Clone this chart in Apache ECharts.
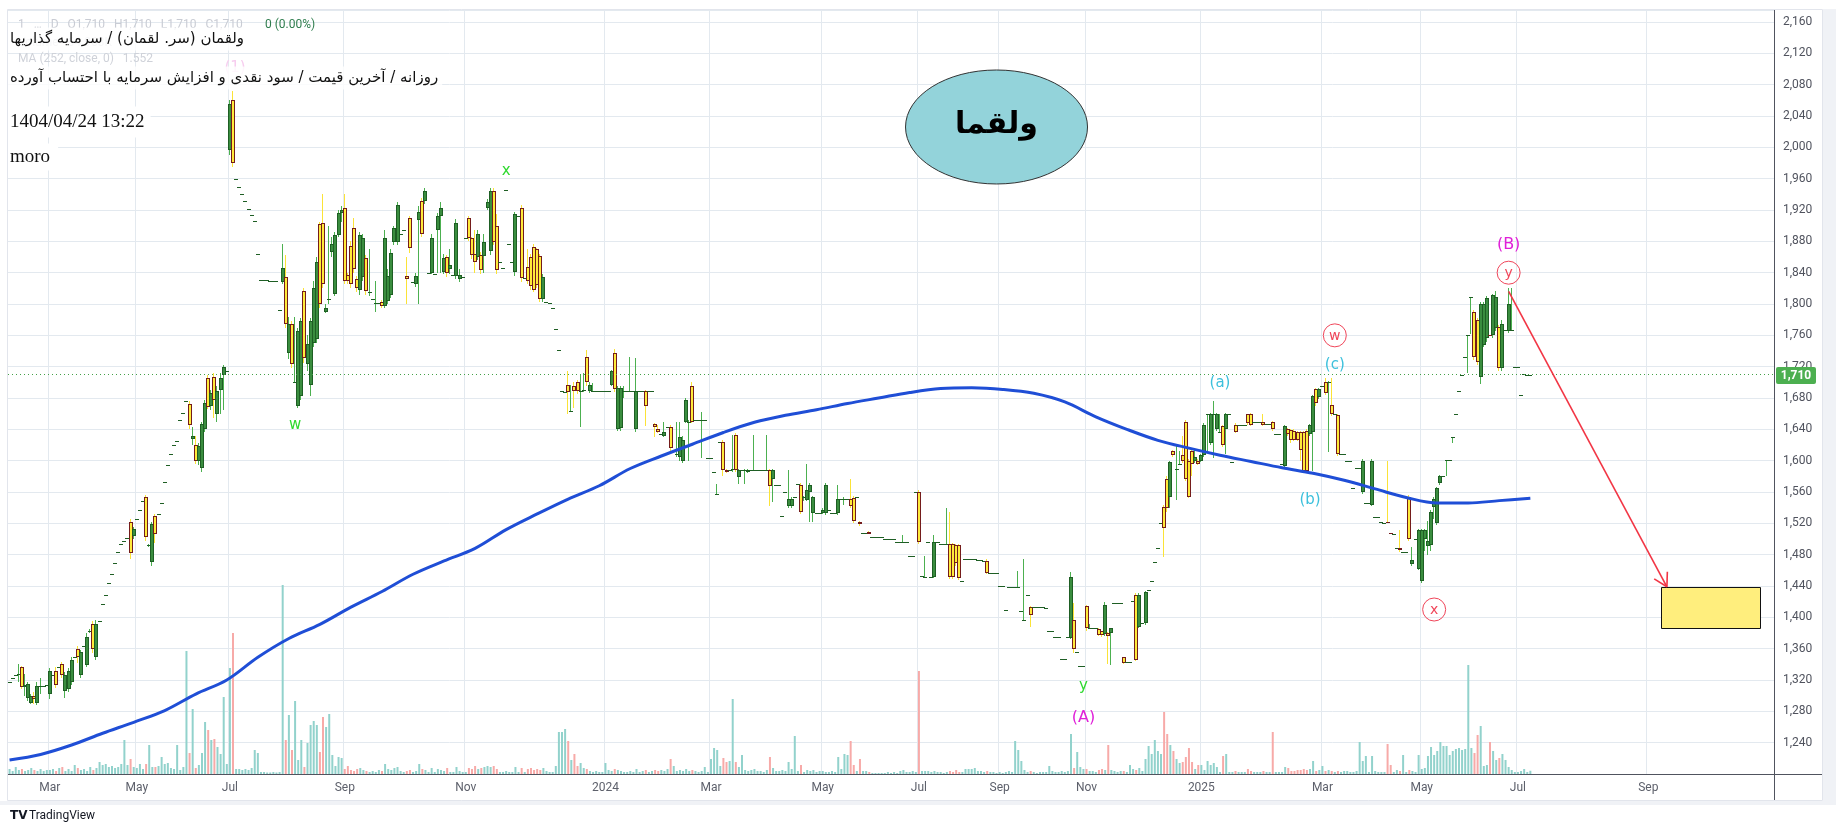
<!DOCTYPE html>
<html><head><meta charset="utf-8">
<script src="https://cdn.jsdelivr.net/npm/echarts/dist/echarts.min.js"></script>
<style>html,body{margin:0;padding:0;background:#fff;}#c{width:1836px;height:835px;}</style>
</head><body><div id="c"></div>
<script>
// ---------- DATA (a single number = a bar with open=close=low=high) ----------
// [open, close, low, high], one entry per trading bar
const ohlc2023 = [
// Feb
1318,1322,1327,[1326,1328,1318,1340],[1336,1311,1308,1338],[1311,1313,1300,1328],[1297,1315,1293,1318],[1291,1300,1289,1302],[1300,1296,1290,1305],[1291,1312,1288,1318],[1312,1312,1302,1322],1312,1313,
// Mar
[1302,1331,1296,1335],1326,[1332,1314,1310,1336],1336,[1341,1326,1322,1343],[1306,1326,1297,1330],[1308,1331,1305,1335],[1317,1346,1314,1350],1350,[1359,1349,1342,1364],[1326,1356,1322,1358],1363,[1339,1375,1336,1380],[1382,1382,1380,1385],
// Apr
[1391,1359,1355,1395],[1350,1392,1345,1396],1395,1417,1428,1444,1455,1469,1484,1493,1497,1501,[1522,1482,1475,1525],[1504,1513,1500,1515],
// May
1525,1537,1549,[1554,1503,1498,1556],[1492,1492,1490,1494],[1471,1519,1466,1522],[1529,1506,1495,1532],1532,1546,1573,1594,1608,1620,1625,1652,
// Jun
1661,1676,[1672,1645,1640,1676],[1628,1632,1620,1643],[1620,1599,1596,1632],[1599,1619,1595,1622],[1591,1647,1585,1650],[1640,1674,1636,1678],[1706,1669,1666,1710],[1670,1686,1665,1690],[1707,1677,1654,1712],[1659,1689,1650,1695],[1690,1705,1660,1712],[1710,1720,1665,1722],1715,
// Jul
[1996,2055,1990,2060],[2060,1980,1975,2072],1959,1949,1941,1931,1921,1914,1906,1864,1831,1831,1831,1830,1830,1830,1792,[1828,1846,1826,1876],[1835,1775,1770,1862],
// Aug
[1737,1775,1730,1784],[1775,1723,1718,1778],[1701,1701,1700,1784],[1670,1765,1667,1770],[1682,1778,1678,1782],[1816,1731,1725,1820],[1723,1749,1715,1760],[1697,1778,1682,1782],[1750,1821,1745,1830],[1755,1854,1750,1860],[1902,1800,1795,1905],[1904,1825,1820,1940],[1790,1795,1788,1800],[1806,1806,1800,1900],[1866,1877,1860,1885],[1813,1888,1810,1892],[1888,1916,1885,1920],[1916,1920,1905,1925],
// Sep
[1923,1830,1825,1941],[1837,1829,1826,1840],[1874,1825,1820,1880],[1897,1845,1840,1910],[1832,1820,1815,1836],[1818,1888,1812,1892],[1835,1884,1830,1890],[1859,1817,1812,1862],[1815,1815,1810,1870],1807,[1801,1801,1790,1830],1801,[1802,1797,1795,1805],[1797,1884,1795,1895],[1804,1836,1800,1845],[1812,1865,1808,1870],[1879,1897,1875,1900],[1879,1926,1875,1930],1890,1895,
// Oct
[1836,1832,1800,1860],[1910,1871,1865,1912],1828,[1826,1836,1822,1840],[1907,1918,1800,1925],[1932,1889,1885,1935],[1932,1944,1928,1948],1840,[1840,1884,1838,1890],1838,[1895,1913,1840,1916],[1913,1923,1840,1930],[1841,1859,1838,1864],[1860,1840,1835,1862],[1845,1850,1838,1870],1837,[1836,1903,1832,1908],[1832,1837,1828,1845],1835,
// Nov
1884,[1910,1884,1880,1912],[1884,1862,1858,1886],[1864,1854,1840,1895],[1860,1890,1856,1895],[1862,1843,1838,1866],[1861,1879,1840,1890],[1923,1930,1920,1934],[1868,1944,1862,1948],[1944,1879,1875,1948],[1899,1843,1838,1915],1854,1846,1946,1877,1854,[1841,1915,1836,1918],1913,[1923,1833,1828,1926],1833,[1847,1830,1826,1870],[1860,1823,1818,1864],[1873,1818,1815,1876],
// Dec
[1870,1824,1820,1872],[1861,1807,1803,1864],[1806,1835,1802,1838],1803,1801,1795,1768,1741,1689,1688,[1696,1688,1660,1715],[1664,1664,1664,1696],[1695,1689,1667,1701],[1701,1689,1685,1703],[1689,1689,1643,1711],[1689,1690,1688,1712],[1732,1700,1695,1741],[1689,1697,1686,1700],[1689,1689,1689,1699],1689,1689,1689
];
const ohlc2024 = [
// Jan
1689,1689,[1697,1714,1695,1716],[1738,1691,1688,1742],[1641,1693,1638,1695],[1642,1693,1638,1695],[1689,1689,1680,1695],1689,[1689,1689,1689,1732],1689,[1640,1689,1637,1731],1689,1689,[1689,1670,1644,1690],1689,1689,[1647,1643,1630,1648],
// Feb
[1641,1637,1635,1645],1634,[1632,1636,1630,1650],1643,[1643,1616,1612,1645],1612,[1608,1608,1605,1650],[1605,1630,1600,1650],[1600,1626,1597,1632],[1650,1677,1648,1680],[1650,1650,1600,1652],[1695,1650,1648,1700],1652,1652,[1652,1652,1603,1662],1652,1604,
// Mar
1604,1585,[1558,1558,1558,1570],1624,[1624,1588,1580,1626],[1588,1585,1584,1590],1588,[1588,1590,1586,1633],[1633,1588,1586,1635],[1579,1588,1570,1590],1588,[1588,1588,1570,1590],[1585,1588,1584,1590],1588,[1588,1588,1588,1633],1588,1588,1588,
// Apr
[1588,1588,1588,1633],[1588,1568,1542,1590],[1576,1588,1547,1590],1569,1569,1529,1560,[1542,1551,1540,1588],[1542,1551,1540,1553],1553,1570,[1569,1535,1532,1571],[1553,1553,1548,1555],[1550,1562,1548,1596],[1560,1569,1522,1571],[1533,1553,1522,1555],1533,1533,
// May
[1533,1537,1532,1539],[1533,1569,1531,1571],1537,1533,1533,[1533,1551,1531,1569],1551,[1551,1551,1544,1553],1551,[1551,1542,1540,1576],[1552,1523,1520,1555],1553,[1522,1519,1517,1523],1508,1508,
// Jun
[1509,1507,1506,1510],1503,1503,1503,1503,1500,1500,1500,1500,1496,1496,[1496,1496,1496,1505],1496,1478,1478,1560,
// Jul
[1560,1496,1494,1562],1453,[1452,1452,1452,1478],1496,1452,[1452,1496,1450,1505],1496,1494,1494,[1494,1494,1494,1540],[1494,1451,1449,1535],[1493,1451,1449,1495],[1492,1469,1465,1494],
// Aug
[1492,1450,1448,1494],1447,1475,1475,1475,1475,1473,1473,1472,[1472,1457,1455,1474],1456,1456,1456,
// Sep
1440,1440,1409,1439,1439,1439,[1439,1439,1439,1459],1408,[1396,1396,1396,1475],1429,[1413,1403,1388,1414],1413,1413,1413,
// Oct
1413,1412,1383,1382,1375,1375,1347,1347,1375,[1374,1451,1372,1458],[1396,1360,1355,1418],1356,1338,1338,
// Nov
[1415,1386,1383,1416],[1386,1386,1386,1392],1386,1386,[1385,1378,1376,1386],[1382,1377,1375,1383],[1379,1416,1376,1419],[1380,1376,1340,1381],[1380,1386,1339,1387],1418,1418,1418,[1349,1342,1340,1350],1343,1343,1421,[1429,1346,1344,1431],[1388,1429,1386,1431],1393,
// Dec
[1393,1432,1390,1434],1435,1447,1471,1489,1520,[1541,1514,1477,1543],[1577,1539,1535,1580],[1554,1598,1540,1600],[1612,1607,1605,1614],[1590,1590,1550,1620],[1596,1596,1596,1612],[1607,1599,1597,1632],[1650,1576,1574,1652],[1600,1554,1552,1602],[1612,1596,1580,1614],[1599,1605,1597,1615],[1600,1596,1594,1602]
];
const ohlc2025 = [
// Jan
[1600,1607,1598,1609],[1607,1645,1605,1648],[1659,1659,1610,1660],[1623,1659,1620,1661],[1659,1659,1603,1676],[1640,1659,1638,1661],[1637,1637,1637,1659],[1644,1620,1618,1646],[1640,1659,1609,1661],1659,1598,[1646,1637,1635,1648],1646,1646,1646,[1659,1648,1646,1660],[1659,1646,1644,1661],1649,1649,1649,
// Feb
[1649,1646,1644,1659],1647,1647,[1649,1640,1638,1651],1634,1634,1596,[1593,1644,1590,1646],[1640,1634,1632,1642],[1639,1627,1622,1641],[1638,1627,1625,1640],[1636,1627,1625,1638],[1636,1613,1600,1638],[1636,1587,1585,1638],[1638,1587,1585,1640],[1634,1645,1632,1647],[1636,1682,1587,1684],[1691,1673,1670,1693],[1681,1691,1679,1693],
// Mar
1695,[1700,1686,1684,1705],[1700,1700,1611,1702],[1671,1659,1657,1706],1659,[1658,1608,1606,1660],1608,1608,1600,1600,1565,1591,1591,[1560,1600,1558,1602],1546,1546,
// Apr
[1544,1600,1542,1602],1528,1528,1522,1521,[1522,1521,1521,1600],[1508,1507,1507,1508],1507,1488,[1488,1486,1484,1511],1484,1484,[1554,1500,1498,1556],[1468,1473,1466,1490],1500,[1462,1511,1460,1513],
// May
[1446,1511,1444,1513],[1500,1511,1485,1513],[1491,1498,1480,1523],[1492,1535,1485,1537],[1541,1551,1525,1553],[1520,1565,1518,1567],[1571,1580,1569,1582],1580,[1601,1601,1581,1601],1601,[1630,1630,1622,1630],1659,1689,1709,1733,[1761,1761,1712,1761],
// Jun
[1809,1809,1762,1809],[1790,1732,1728,1792],[1780,1726,1722,1782],[1707,1800,1698,1802],[1748,1800,1745,1802],[1756,1808,1752,1810],[1761,1760,1760,1761],[1760,1811,1757,1813],[1769,1809,1765,1817],[1771,1718,1715,1773],[1718,1774,1715,1780],1767,[1766,1800,1763,1820],[1767,1767,1767,1820],1719,
// Jul
1719,1684,1711,1709,1710
];
// volume (thousand shares), one per bar
const volume2023 = [
100,60,140,80,100,60,80,120,80,60,100,60,80,
80,100,60,120,140,60,100,60,180,120,80,100,60,140,
80,120,240,180,200,140,160,120,140,200,680,180,300,140,
120,200,100,200,580,140,140,160,340,200,220,120,100,580,80,
140,2460,420,1300,120,180,420,1040,880,680,700,540,400,1540,200,
2120,2820,100,100,80,100,80,120,480,420,40,40,30,30,40,30,40,3780,680,
1180,480,1460,280,680,140,620,980,1060,980,440,1140,940,1200,380,160,340,320,
100,160,80,60,100,120,80,60,40,60,40,80,60,200,100,80,120,140,60,40,
60,80,40,60,200,100,80,40,120,40,100,80,60,120,40,40,140,60,40,
40,120,100,160,100,120,140,160,140,160,100,40,40,60,40,40,140,40,120,40,100,120,80,
100,80,120,60,40,40,160,840,840,900,660,280,400,160,220,120,100,60,40,60,40,40
];
const volume2024 = [
220,80,60,100,80,60,40,40,60,40,100,40,60,80,40,60,80,
60,80,60,100,300,160,60,80,60,100,60,80,60,40,60,140,40,
300,520,480,160,320,240,260,1500,240,140,380,80,60,80,100,60,60,40,
80,340,120,60,60,80,60,240,100,760,60,180,40,80,60,80,40,60,
60,40,40,60,40,340,100,400,380,660,180,60,300,60,60,
40,20,20,20,20,20,40,20,40,20,60,80,40,40,60,40,
2060,60,60,60,40,60,40,40,20,40,60,40,80,
40,40,100,100,100,120,60,60,40,60,40,40,20,
40,20,40,60,40,660,480,260,80,40,60,40,20,40,
40,40,160,60,40,40,60,40,60,800,120,440,140,100,
100,60,60,40,80,100,80,580,80,60,40,60,60,40,180,100,80,120,60,
300,560,400,680,460,400,1240,800,580,460,300,220,240,340,520,240,100,180
];
const volume2025 = [
180,80,260,180,220,140,40,360,400,40,40,60,40,40,40,100,60,40,40,40,
60,40,40,840,40,40,40,140,120,60,60,80,80,100,80,100,260,60,80,
160,60,80,60,40,60,40,60,60,40,40,60,640,260,360,40,
360,60,40,40,40,600,180,40,80,60,380,40,80,60,40,380,
100,120,360,540,380,460,640,560,560,380,460,500,520,480,500,2180,
520,420,780,960,160,180,640,460,280,320,400,280,140,80,40,
40,60,100,40,65
];
// MA(252, close) read every 10 bars
const ma252Every10 = [1218,1225,1237,1252,1266,1281,1302,1320,1349,1373,1391,1413,1433,1455,1472,1488,1512,1532,1551,1568,1590,1606,1621,1636,1649,1658,1665,1673,1680,1687,1692,1693,1691,1686,1675,1656,1640,1626,1616,1607,1599,1591,1584,1575,1564,1553,1546,1546,1549,1552];
// time scale: month tick labels and bar counts per month (Feb 2023 .. Oct 2025)
const monthTickLabels = ['','Mar','','May','','Jul','','Sep','','Nov','','2024','','Mar','','May','','Jul','','Sep','','Nov','','2025','','Mar','','May','','Jul','','Sep',''];
const barsPerMonth = [13,14,14,15,15,19,18,20,19,23,22, 17,17,18,18,15,16,13,13,14,14,19,18, 20,19,16,16,16,15,21,21,21,20];
const lastPrice = 1710;

// ---------- BUILD ----------
const ohlc = ohlc2023.concat(ohlc2024, ohlc2025).map(d => Array.isArray(d) ? d : [d, d, d, d]);
const volume = volume2023.concat(volume2024, volume2025);
const categories = [], labelIdx = new Set();
let k = 0;
barsPerMonth.forEach((n, m) => {
  for (let j = 0; j < n; j++) {
    if (j === 0 && monthTickLabels[m]) { categories.push(monthTickLabels[m] + '#' + k); labelIdx.add(k); }
    else categories.push('#' + k);
    k++;
  }
});
const candleData = ohlc.map((d, i) => [i, d[0], d[1], d[2], d[3]]);
const volData = volume.slice(0, ohlc.length).map((v, i) => ({
  value: v, itemStyle: { color: ohlc[i][1] >= ohlc[i][0] ? '#92d2cc' : '#f7aaa8' }
}));
const maData = new Array(ohlc.length).fill(null);
ma252Every10.forEach((v, j) => { if (j * 10 < maData.length) maData[j * 10] = v; });

const upFill = '#3a8d3f', upBorder = '#1e5e24', upWick = '#4cb050';
const dnFill = '#ffeb3b', dnBorder = '#741c1c', dnWick = '#fbe337';

function renderCandle(params, api) {
  const i = api.value(0), o = api.value(1), c = api.value(2), l = api.value(3), h = api.value(4);
  const pO = api.coord([i, o]), pC = api.coord([i, c]), pL = api.coord([i, l]), pH = api.coord([i, h]);
  const xc = Math.round(pO[0]) - 1;
  const up = c >= o;
  const kids = [];
  const yh = Math.round(pH[1]), yl = Math.round(pL[1]);
  if (yl - yh >= 1) kids.push({ type: 'rect', shape: { x: xc, y: yh, width: 1, height: yl - yh }, style: { fill: up ? upWick : dnWick } });
  let top = Math.round(Math.min(pO[1], pC[1])), bot = Math.round(Math.max(pO[1], pC[1]));
  if (bot - top < 1) bot = top + 1;
  kids.push({ type: 'rect', shape: { x: xc - 1, y: top, width: 4, height: bot - top }, style: { fill: up ? upBorder : dnBorder } });
  if (bot - top > 2) kids.push({ type: 'rect', shape: { x: xc, y: top + 1, width: 2, height: bot - top - 2 }, style: { fill: up ? upFill : dnFill } });
  return { type: 'group', children: kids };
}

const GRID = { left: 8, right: 62, top: 10, bottom: 61 };
const gridH = 835 - GRID.top - GRID.bottom;
const pxPerUnit = 0.7833;
const yMin = 1200, yMax = yMin + gridH / pxPerUnit;
const volMax = 20 * gridH; // 1 px = 20K

const chart = echarts.init(document.getElementById('c'), null, { renderer: 'canvas' });
chart.setOption({
  animation: false,
  backgroundColor: '#ffffff',
  grid: Object.assign({ containLabel: false, outerBoundsMode: 'none' }, GRID),
  xAxis: {
    type: 'category', data: categories, boundaryGap: true,
    axisLine: { lineStyle: { color: '#50535e', width: 1 } },
    axisTick: { show: false },
    axisLabel: {
      interval: (i) => labelIdx.has(i), margin: 8,
      formatter: (v) => v.split('#')[0],
      color: '#5d606b', fontFamily: 'Roboto', fontSize: 12
    },
    splitLine: { show: true, interval: (i) => labelIdx.has(i), lineStyle: { color: '#e3e9ef', width: 1 } }
  },
  yAxis: [{
    type: 'value', position: 'right', min: yMin, max: yMax, interval: 40, scale: true,
    axisLine: { show: true, lineStyle: { color: '#50535e' } },
    axisTick: { show: false },
    axisLabel: {
      margin: 9, showMaxLabel: false, showMinLabel: false,
      formatter: (v) => v.toLocaleString('en-US'),
      color: '#50535e', fontFamily: 'Roboto', fontSize: 12
    },
    splitLine: { show: true, lineStyle: { color: '#e3e9ef', width: 1 } }
  }, {
    type: 'value', min: 0, max: volMax, show: false, splitLine: { show: false }
  }],
  series: [{
    type: 'bar', name: 'Volume', xAxisIndex: 0, yAxisIndex: 1, data: volData,
    barWidth: 2, silent: true, z: 1, large: false
  }, {
    type: 'custom', name: 'price', xAxisIndex: 0, yAxisIndex: 0, data: candleData,
    renderItem: renderCandle, encode: { x: 0, y: [1, 2, 3, 4] }, clip: true, silent: true, z: 2,
    markLine: {
      silent: true, symbol: 'none', label: { show: false },
      lineStyle: { color: '#43a047', type: [1, 3], width: 1 },
      data: [{ yAxis: lastPrice }]
    }
  }, {
    type: 'line', name: 'MA 252', xAxisIndex: 0, yAxisIndex: 0, data: maData,
    connectNulls: true, smooth: 0.35, showSymbol: false, silent: true, z: 3,
    lineStyle: { color: '#1f4ed6', width: 3 }
  }]
});

// ---------- ANNOTATIONS (anchored in bar index / price) ----------
const waveNotes = [
  { t: 'w', i: 92, p: 1646, c: '#2fd92f', s: 15 },
  { t: 'x', i: 160, p: 1970, c: '#2fd92f', s: 15 },
  { t: 'y', i: 346, p: 1312, c: '#2fd92f', s: 15 },
  { t: '(A)', i: 346, p: 1272, c: '#e020d8', s: 16 },
  { t: '(a)', i: 390, p: 1699, c: '#3cc0dc', s: 15 },
  { t: '(b)', i: 419, p: 1550, c: '#3cc0dc', s: 15 },
  { t: '(c)', i: 427, p: 1722, c: '#3cc0dc', s: 15 },
  { t: '(B)', i: 483, p: 1876, c: '#e020d8', s: 16 }
];
const circleNotes = [{ t: 'w', i: 427, p: 1760 }, { t: 'x', i: 459, p: 1410 }, { t: 'y', i: 483, p: 1840 }];
const arrowFrom = { i: 483, p: 1816 }, arrowTo = { i: 534, p: 1439 };
const targetBox = { i0: 532, i1: 564, p0: 1439, p1: 1387 };
const badge = { i: 318, p: 2026, text: 'ولقما' };

function px(i, p) { return chart.convertToPixel({ xAxisIndex: 0, yAxisIndex: 0 }, [i, p]); }
function txt(x, y, text, font, fill, align, extra, z) {
  return { type: 'text', x, y, z: z || 50, style: Object.assign({ text, font, fill, align: align || 'left', verticalAlign: 'middle', textAlign: align || 'left', textVerticalAlign: 'middle' }, extra || {}) };
}
const g = [];
// frame / axis extensions
g.push({ type: 'rect', z: 40, shape: { x: 7.5, y: 9.5, width: 1815, height: 791 }, style: { fill: 'none', stroke: '#e2e5ec', lineWidth: 1 } });
g.push({ type: 'line', z: 41, shape: { x1: 1774.5, y1: 774, x2: 1774.5, y2: 800 }, style: { stroke: '#50535e', lineWidth: 1 } });
g.push({ type: 'line', z: 41, shape: { x1: 1774, y1: 774.5, x2: 1822, y2: 774.5 }, style: { stroke: '#50535e', lineWidth: 1 } });
g.push({ type: 'rect', z: 39, shape: { x: 1823, y: 9, width: 13, height: 793 }, style: { fill: '#f0f2f6' } });
g.push({ type: 'rect', z: 39, shape: { x: 0, y: 801, width: 1836, height: 4 }, style: { fill: '#f0f2f6' } });

waveNotes.forEach(n => { const q = px(n.i, n.p); g.push(txt(q[0], q[1], n.t, n.s + 'px "DejaVu Sans"', n.c, 'center')); });
circleNotes.forEach(n => {
  const q = px(n.i, n.p);
  g.push({ type: 'circle', z: 50, shape: { cx: q[0], cy: q[1], r: 11.5 }, style: { fill: 'rgba(255,255,255,0)', stroke: '#f0465a', lineWidth: 1 } });
  g.push(txt(q[0], q[1] + 1, n.t, '14px "DejaVu Sans"', '#f0465a', 'center'));
});
// arrow
const a0 = px(arrowFrom.i, arrowFrom.p), a1 = px(arrowTo.i, arrowTo.p);
const ang = Math.atan2(a0[1] - a1[1], a0[0] - a1[0]);
g.push({ type: 'line', z: 50, shape: { x1: a0[0], y1: a0[1], x2: a1[0], y2: a1[1] }, style: { stroke: '#f23645', lineWidth: 1.6 } });
[0.52, -0.52].forEach(d => {
  g.push({ type: 'line', z: 50, shape: { x1: a1[0], y1: a1[1], x2: a1[0] + 15 * Math.cos(ang + d), y2: a1[1] + 15 * Math.sin(ang + d) }, style: { stroke: '#f23645', lineWidth: 1.6 } });
});
// target box
const b0 = px(targetBox.i0, targetBox.p0), b1 = px(targetBox.i1, targetBox.p1);
g.push({ type: 'rect', z: 49, shape: { x: Math.round(b0[0]) + 0.5, y: Math.round(b0[1]) + 0.5, width: Math.round(b1[0] - b0[0]), height: Math.round(b1[1] - b0[1]) }, style: { fill: '#ffee7d', stroke: '#111', lineWidth: 1 } });
// ellipse badge
const e = px(badge.i, badge.p);
g.push({ type: 'ellipse', z: 49, shape: { cx: e[0], cy: e[1], rx: 91, ry: 57 }, style: { fill: '#93d3da', stroke: '#333', lineWidth: 1 } });
g.push(txt(e[0], e[1] - 2, badge.text, 'bold 30px "DejaVu Sans"', '#000', 'center'));

// last price badge on the scale
const lp = px(0, lastPrice);
g.push({ type: 'rect', z: 60, shape: { x: 1776, y: Math.round(lp[1]) - 8, width: 40, height: 17, r: 2 }, style: { fill: '#4caf50' } });
g.push(txt(1796, Math.round(lp[1]) + 0.5, '1,710', 'bold 12px Roboto', '#ffffff', 'center', null, 61));

// legend (faint) + text notes
g.push(txt(18, 25, '1   \u2026   D   O1,710   H1,710   L1,710   C1,710', '12px Roboto', '#c9ccd4'));
g.push(txt(265, 25, '0 (0.00%)', '12px Roboto', '#2f7d4e'));
g.push(txt(18, 43, 'Volume   64.963K', '12px Roboto', '#cfd2d9'));
g.push(txt(18, 59, 'MA (252, close, 0)   1.552', '12px Roboto', '#cfd2d9'));
g.push(txt(235, 68, '(1)', '15px "DejaVu Sans"', '#f7cdef', 'center'));
const boxBg = { backgroundColor: 'rgba(255,255,255,0.82)', padding: [4, 4, 4, 2] };
g.push(txt(8, 39, '\u200Fولقمان (سر. لقمان) / سرمایه گذاریها\u200F', '15px "DejaVu Sans"', '#111', 'left', boxBg, 51));
g.push(txt(8, 78, '\u200Fروزانه / آخرین قیمت / سود نقدی و افزایش سرمایه با احتساب آورده\u200F', '15px "DejaVu Sans"', '#111', 'left', boxBg, 51));
g.push(txt(8, 122, '1404/04/24 13:22', '19px "Liberation Serif"', '#111', 'left', { backgroundColor: '#fff', padding: [6, 6, 6, 2] }, 51));
g.push(txt(8, 157, 'moro', '19px "Liberation Serif"', '#111', 'left', { backgroundColor: '#fff', padding: [4, 8, 4, 2] }, 51));
// footer
g.push(txt(10, 816, 'TV', 'bold 12px "DejaVu Sans"', '#131722'));
g.push(txt(29, 816, 'TradingView', '12px Roboto', '#131722'));

chart.setOption({ graphic: g });
</script>
</body></html>
